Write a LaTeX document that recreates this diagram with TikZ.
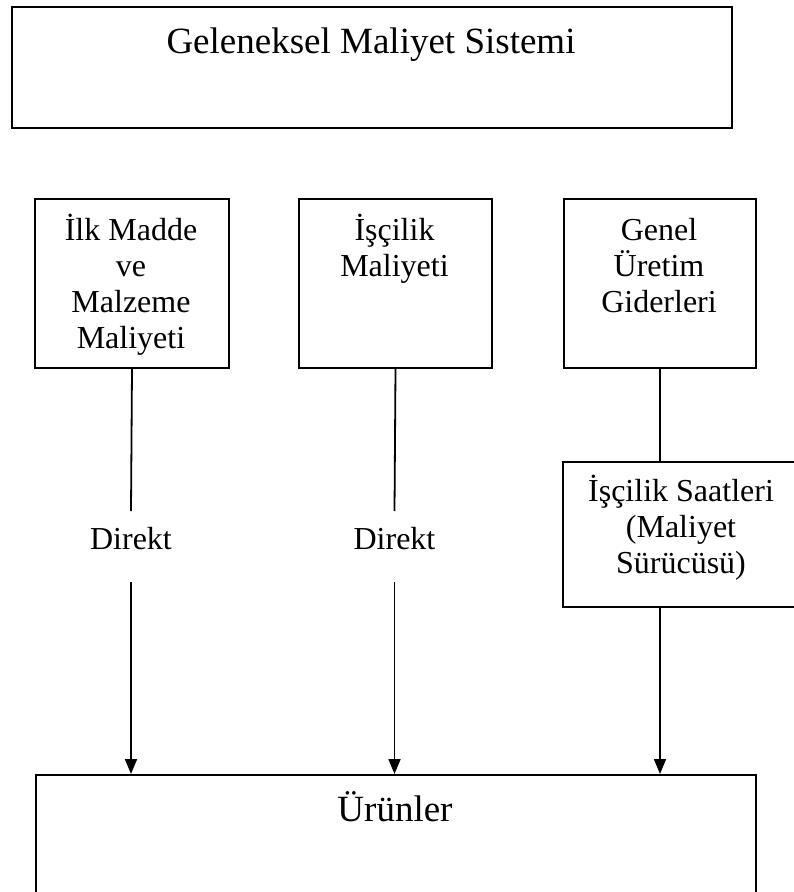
\documentclass[tikz,border=0pt]{standalone}
\usepackage{fontspec}
\setmainfont{Liberation Serif}
\usetikzlibrary{arrows.meta}
\begin{document}
\begin{tikzpicture}[x=1pt,y=-1pt,
  box/.style={draw, line width=2pt, inner sep=0pt, anchor=north west},
  conn/.style={line width=1.8pt},
  arr/.style={conn, -{Triangle[width=12pt,length=15pt]}},
  big/.style={font=\fontsize{37}{42}\selectfont, inner sep=0pt, anchor=base},
  txt/.style={font=\fontsize{32}{36}\selectfont, inner sep=0pt, anchor=base}]
\useasboundingbox (0,0) rectangle (794,892);
\clip (0,0) rectangle (794,892);
% boxes
\node[box, minimum width=720pt, minimum height=121pt] (title) at (11,6) {};
\node[box, minimum width=194pt, minimum height=169pt] (b1) at (34,198) {};
\node[box, minimum width=193pt, minimum height=169pt] (b2) at (298,198) {};
\node[box, minimum width=192pt, minimum height=169pt] (b3) at (563,198) {};
\node[box, minimum width=240pt, minimum height=145pt] (b4) at (562,461) {};
\node[box, minimum width=720pt, minimum height=160pt] (prod) at (35,774) {};
% texts
\node[big] (ttitle) at (371,53) {Geleneksel Maliyet Sistemi};
\node[txt] (t1a) at (131,240) {İlk Madde};
\node[txt] (t1b) at (131,276) {ve};
\node[txt] (t1c) at (131,312) {Malzeme};
\node[txt] (t1d) at (131,348) {Maliyeti};
\node[txt] (t2a) at (394.5,240) {İşçilik};
\node[txt] (t2b) at (394.5,276) {Maliyeti};
\node[txt] (t3a) at (659,240) {Genel};
\node[txt] (t3b) at (659,276) {Üretim};
\node[txt] (t3c) at (659,312) {Giderleri};
\node[txt] (t4a) at (681,501) {İşçilik Saatleri};
\node[txt] (t4b) at (681,537) {(Maliyet};
\node[txt] (t4c) at (681,573) {Sürücüsü)};
\node[big] (tprod) at (395,821) {Ürünler};
\node[txt] (d1) at (131,549) {Direkt};
\node[txt] (d2) at (394.5,549) {Direkt};
% connectors
\coordinate (d1top) at (131,511);
\coordinate (d1bot) at (131,582);
\coordinate (d2top) at (394.5,511);
\coordinate (d2bot) at (394.5,582);
\draw[conn] (b1.south) -- (d1top);
\draw[arr] (d1bot) -- (d1bot |- prod.north);
\draw[conn] (b2.south) -- (d2top);
\draw[arr] (d2bot) -- (d2bot |- prod.north);
\draw[conn] (b3.south) -- (b3.south |- b4.north);
\draw[arr] (b3.south |- b4.south) -- (b3.south |- prod.north);
\end{tikzpicture}
\end{document}
